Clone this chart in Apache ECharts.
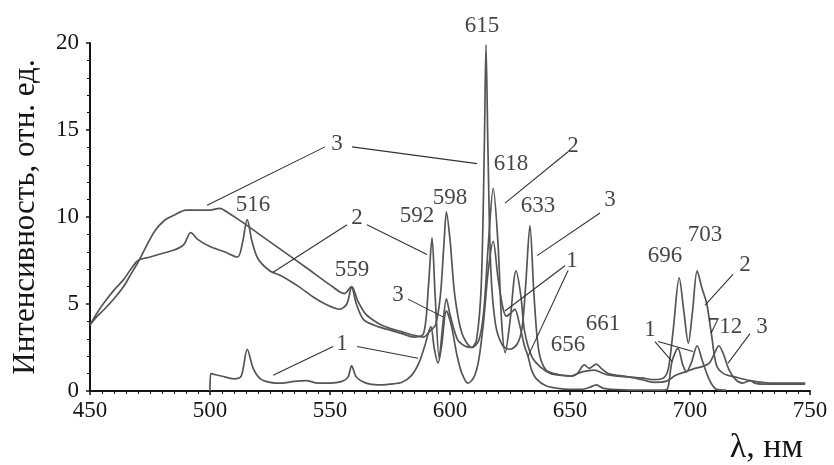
<!DOCTYPE html>
<html>
<head>
<meta charset="utf-8">
<script src="https://cdn.jsdelivr.net/npm/echarts@6/dist/echarts.min.js"></script>
<style>
  html, body { margin: 0; padding: 0; background: #fff; }
  #chart { width: 834px; height: 465px; }
</style>
</head>
<body>
<div id="chart"></div>
<script>
/* ---- spectra (λ, нм / intensity) ---- */
const wl1 = [500, 500.3, 505, 510, 513, 515.5, 518, 521, 525, 530, 535, 540, 545, 550, 555, 557.5, 559, 561, 565, 570, 575, 580, 584, 587, 589.5, 592, 593.5, 595, 596.5, 598.5, 600.5, 603, 605, 607.5, 610, 612, 614, 616, 618, 620, 622, 623.5, 625.5, 627, 629, 631, 632.5, 634, 636, 640, 645, 650, 655, 658, 661, 664, 670, 680, 688, 690.5, 692.5, 695, 697, 698.5, 700.5, 703, 705, 707, 709, 711, 715];
const int1 = [0, 1.0, 0.85, 0.7, 0.85, 2.4, 1.3, 0.7, 0.5, 0.45, 0.55, 0.6, 0.45, 0.45, 0.55, 0.8, 1.45, 0.8, 0.45, 0.35, 0.4, 0.5, 0.9, 1.6, 2.6, 3.7, 2.4, 1.6, 2.6, 4.6, 3.8, 2.0, 1.0, 0.45, 0.8, 1.8, 4.0, 7.0, 8.6, 6.5, 4.8, 4.3, 4.5, 4.7, 3.8, 2.6, 2.0, 1.2, 0.7, 0.3, 0.15, 0.1, 0.1, 0.2, 0.35, 0.15, 0.08, 0.05, 0.05, 0.1, 1.7, 2.45, 1.5, 1.1, 1.6, 2.6, 1.8, 1.0, 0.4, 0.1, 0.05];

const wl2 = [450, 453, 456, 460, 464, 467, 470, 475, 480, 485, 489, 492, 495, 500, 506, 511.5, 513.5, 515.5, 517.5, 520, 525, 530, 537, 543, 548, 554, 557, 559, 561, 564, 570, 575, 580, 585, 589, 591, 592.5, 593.8, 595.5, 597, 598.5, 600, 603, 606, 609, 612, 614, 616, 618, 620, 621.5, 623, 625, 627.5, 629.5, 631, 634, 637.5, 642, 647, 651, 653, 656, 658, 661, 663, 666, 670, 675, 680, 685, 689, 691, 693, 695.5, 697.5, 699.3, 701, 703, 705, 707, 709, 711, 714, 719, 725, 735, 748];
const int2 = [3.8, 4.5, 5.1, 5.8, 6.4, 7.0, 7.5, 7.7, 7.9, 8.1, 8.4, 9.1, 8.7, 8.3, 8.0, 7.7, 8.5, 9.85, 8.6, 7.6, 6.9, 6.6, 6.0, 5.4, 5.0, 4.7, 5.0, 5.95, 5.0, 4.1, 3.7, 3.5, 3.3, 3.1, 3.3, 6.0, 8.8, 5.5, 1.9, 3.8, 5.3, 4.4, 3.0, 2.6, 2.5, 2.9, 4.5, 8.5, 11.65, 8.5, 4.0, 2.2, 4.0, 6.9, 5.5, 3.5, 2.0, 1.4, 1.0, 0.9, 0.85, 1.0, 1.5, 1.3, 1.55, 1.3, 1.0, 0.9, 0.8, 0.75, 0.65, 0.75, 1.3, 3.5, 6.5, 4.5, 2.75, 4.5, 6.9, 5.9, 5.0, 3.2, 1.5, 1.0, 0.8, 0.6, 0.45, 0.45];

const wl3 = [450, 453, 456, 460, 464, 467, 470, 473, 477, 481, 485, 490, 495, 500, 504, 508, 513, 520, 530, 540, 550, 556, 559, 561.5, 565, 570, 575, 580, 585, 589, 592, 594, 596, 597.5, 598.5, 600, 602, 605, 609, 611, 613, 614.3, 615, 615.8, 617, 619, 622, 625, 628, 630, 631.5, 633.3, 635, 637, 640, 645, 650, 655, 660, 665, 670, 675, 680, 685, 690, 694, 698, 702, 705, 708, 710, 712, 714, 716, 719, 722, 725, 727, 730, 740, 748];
const int3 = [3.8, 4.3, 4.7, 5.3, 6.0, 6.7, 7.4, 8.2, 9.2, 9.8, 10.1, 10.4, 10.4, 10.4, 10.5, 10.2, 9.75, 9.06, 8.08, 7.1, 6.1, 5.6, 6.0, 5.2, 4.4, 3.9, 3.6, 3.4, 3.2, 3.1, 3.5, 3.8, 5.5, 8.5, 10.3, 8.7, 5.5, 3.3, 2.5, 2.9, 6.0, 14.0, 19.9, 14.0, 7.0, 3.8, 2.6, 2.4, 2.7, 3.6, 6.0, 9.5, 5.5, 2.3, 1.2, 0.95, 0.85, 1.1, 1.2, 0.95, 0.85, 0.8, 0.65, 0.5, 0.55, 0.9, 1.1, 1.3, 1.4, 1.6, 2.1, 2.6, 2.1, 1.3, 0.65, 0.45, 0.6, 0.45, 0.4, 0.4, 0.4];

/* ---- annotations: peak wavelengths and curve numbers ---- */
const peakText = ["615", "618", "598", "592", "633", "516", "559", "656", "661", "696", "703", "712"];
const peakWl   = [613.3, 625.4, 600, 586.3, 636.7, 517.9, 559.2, 649.2, 663.8, 689.6, 706.3, 714.6];
const peakI    = [21.0, 13.07, 11.08, 10.06, 10.63, 10.68, 6.93, 2.67, 3.86, 7.78, 8.98, 3.69];

const curveText = ["3", "2", "3", "2", "3", "1", "1", "3", "2", "1"];
const curveWl   = [552.9, 651.3, 666.7, 561.3, 578.3, 555, 650.8, 730, 722.9, 683.3];
const curveI    = [14.2, 14.09, 10.97, 9.94, 5.51, 2.73, 7.5, 3.69, 7.27, 3.52];

// leader lines: [λ, I] start -> end
const leaderFrom = [[547.9, 14.03], [559.2, 14.03], [649.2, 13.75], [662.5, 10.23], [557.1, 9.55], [565.4, 9.55], [582.5, 5.28], [551.3, 2.56], [561.3, 2.56], [647.9, 7.2], [649.2, 6.93], [725, 3.3], [717.9, 6.7], [685.4, 2.84], [686.7, 2.84]];
const leaderTo   = [[498.8, 10.68], [611.3, 13.07], [622.9, 10.8], [636.3, 7.78], [526.3, 6.82], [590.4, 7.84], [597.1, 4.26], [526.3, 0.91], [586.7, 1.88], [622.9, 4.6], [632.5, 1.99], [715.8, 1.59], [706.3, 4.94], [692.5, 1.7], [701.3, 2.27]];

const xTicks = { min: 450, max: 750, step: 50 };
const yTicks = { min: 0, max: 20, step: 5 };

/* ---- helpers ---- */
const zip = (xs, ys) => xs.map((x, i) => [x, ys[i]]);
const SERIF = "Liberation Serif, Times New Roman, serif";
const INK = "#151515";
const CURVE = "#555555";

const spectrum = (name, xs, ys) => ({
  name, type: "line", data: zip(xs, ys),
  showSymbol: false, smooth: 0.3, z: 3,
  lineStyle: { color: CURVE, width: 1.7 },
  emphasis: { disabled: true },
});

const textLayer = (name, xs, ys, txt) => ({
  name, type: "scatter", symbolSize: 0, clip: false, z: 6,
  data: xs.map((x, i) => ({ value: [x, ys[i]], label: { formatter: txt[i] } })),
  label: { show: true, position: "inside", color: INK, fontSize: 23, fontFamily: SERIF },
  emphasis: { disabled: true },
});

const chart = echarts.init(document.getElementById("chart"), null, { renderer: "canvas" });
chart.setOption({
  animation: false,
  backgroundColor: "#fff",
  grid: { left: 90, right: 24, top: 43, bottom: 70, containLabel: false },
  xAxis: {
    type: "value", min: xTicks.min, max: xTicks.max, interval: xTicks.step,
    name: "λ, нм", nameLocation: "end", nameGap: -7,
    nameTextStyle: { fontFamily: SERIF, fontSize: 34, color: INK, align: "right", verticalAlign: "top", padding: [40, 0, 0, 0] },
    axisLine: { lineStyle: { color: INK, width: 2 } },
    axisTick: { show: true, length: 4, lineStyle: { color: INK, width: 1.5 } },
    minorTick: { show: true, splitNumber: 10, length: 3, lineStyle: { color: INK } },
    axisLabel: { color: INK, fontSize: 23, fontFamily: SERIF, margin: 8 },
    splitLine: { show: false },
  },
  yAxis: {
    type: "value", min: yTicks.min, max: yTicks.max, interval: yTicks.step,
    name: "Интенсивность, отн. ед.", nameLocation: "middle", nameRotate: 90, nameGap: 49,
    nameTextStyle: { fontFamily: SERIF, fontSize: 31, color: INK },
    axisLine: { show: true, lineStyle: { color: INK, width: 2 } },
    axisTick: { show: true, length: 4, lineStyle: { color: INK, width: 1.5 } },
    minorTick: { show: true, splitNumber: 5, length: 3, lineStyle: { color: INK } },
    axisLabel: { color: INK, fontSize: 23, fontFamily: SERIF, margin: 11 },
    splitLine: { show: false },
  },
  series: [
    spectrum("1", wl1, int1),
    spectrum("2", wl2, int2),
    spectrum("3", wl3, int3),
    {
      name: "leaders", type: "lines", coordinateSystem: "cartesian2d", z: 4,
      data: leaderFrom.map((p, i) => ({ coords: [p, leaderTo[i]] })),
      lineStyle: { color: "#333", width: 1.1, opacity: 1 },
      silent: true,
    },
    textLayer("peaks", peakWl, peakI, peakText),
    textLayer("numbers", curveWl, curveI, curveText),
  ],
});
</script>
</body>
</html>
